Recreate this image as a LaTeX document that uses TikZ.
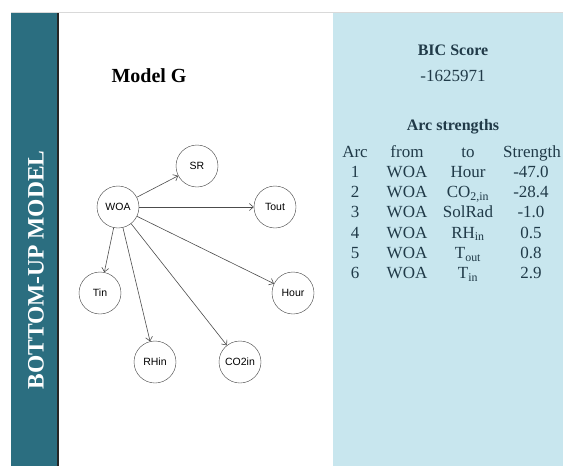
\documentclass[tikz,border=0pt]{standalone}
\usepackage{fontspec}
\setmainfont{Liberation Serif}
\newfontfamily\varfont{Liberation Sans}
\usetikzlibrary{arrows.meta}

\definecolor{bandteal}{RGB}{43,110,128}
\definecolor{panelblue}{RGB}{200,230,238}
\definecolor{tabtext}{RGB}{32,58,72}

\begin{document}
\begin{tikzpicture}[x=1pt,y=-1pt,
  var/.style={draw=black!75,circle,minimum size=42pt,inner sep=0pt,font=\varfont\fontsize{10.5}{12}\selectfont},
  cell/.style={font=\fontsize{17}{20}\selectfont,text=tabtext,anchor=base},
  head/.style={cell,font=\bfseries\fontsize{16}{19}\selectfont},
  >={Straight Barb[length=4pt,width=7pt]}]

\clip (0,0) rectangle (563,466);
\fill[bandteal] (11,12) rectangle (57,466);
\fill[black!85] (57,12) rectangle (59,466);
\fill[panelblue] (333,12) rectangle (563,466);
\draw[black!15] (11,12) -- (563,12);

\node[rotate=90,text=white,font=\bfseries\fontsize{23.5}{26}\selectfont] (side) at (36,270) {BOTTOM-UP MODEL};
\node[anchor=base,font=\bfseries\fontsize{20}{24}\selectfont] (title) at (149,82) {Model G};

% network
\node[var] (WOA) at (118,207) {WOA};
\node[var] (SR) at (197,166) {SR};
\node[var] (Tout) at (275,207) {Tout};
\node[var] (Tin) at (100,293) {Tin};
\node[var] (Hour) at (293,293) {Hour};
\node[var] (RHin) at (155,362) {RHin};
\node[var] (CO2in) at (240,362) {CO2in};

\foreach \t in {SR,Tout,Tin,Hour,RHin,CO2in}{\draw[->,black!70,semithick] (WOA) -- (\t);}

% scores
\node[head] (bic) at (453,55) {BIC Score};
\node[cell] (bicval) at (453,81) {-1625971};
\node[head] (arcs) at (453,130) {Arc strengths};

\node[cell] (harc) at (355,157) {Arc};
\node[cell] (hfrom) at (407,157) {from};
\node[cell] (hto) at (468,157) {to};
\node[cell,anchor=base east,inner sep=1pt] (hstr) at (562,157) {Strength};

\foreach \t/\s [count=\i] in {Hour/-47.0,{CO\textsubscript{2,in}}/-28.4,SolRad/-1.0,
    {RH\textsubscript{in}}/0.5,{T\textsubscript{out}}/0.8,{T\textsubscript{in}}/2.9}{
  \node[cell] (arc\i) at (355,{157+20.3*\i}) {\i};
  \node[cell] (from\i) at (407,{157+20.3*\i}) {WOA};
  \node[cell] (to\i) at (468,{157+20.3*\i}) {\t};
  \node[cell] (str\i) at (531,{157+20.3*\i}) {\s};
}
\end{tikzpicture}
\end{document}
